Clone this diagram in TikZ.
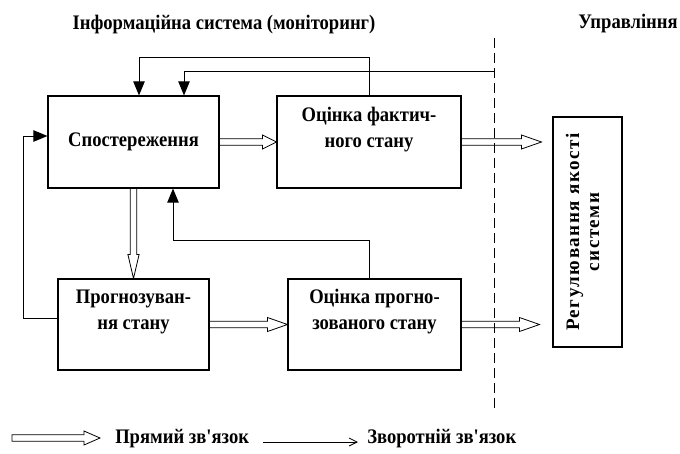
\documentclass[tikz,border=0pt]{standalone}
\usepackage{fontspec}
\setmainfont{Liberation Serif}
\newfontfamily\condfont{Liberation Serif}[FakeStretch=0.9]
\usetikzlibrary{arrows.meta,calc}
\begin{document}
\begin{tikzpicture}[x=0.75pt,y=-0.75pt,
  box/.style={draw, line width=0.8pt, inner sep=0pt},
  lbl/.style={font=\condfont\bfseries\fontsize{15.5}{19.5}\selectfont, align=center, inner sep=0pt},
  fb/.style={draw, line width=0.75pt, -{Triangle[length=10.5pt,width=8.5pt]}},
  hollowR/.style={draw, line width=0.6pt, to path={let \p1=(\tikztostart), \p2=(\tikztotarget) in
    (\x1,\y1+2.4pt) -- (\x2-#1,\y1+2.4pt) -- (\x2-#1,\y1+5.25pt) -- (\x2,\y1)
    -- (\x2-#1,\y1-5.25pt) -- (\x2-#1,\y1-2.4pt) -- (\x1,\y1-2.4pt) -- cycle}},
  hollowR/.default=13.5pt,
  hollowD/.style={draw, line width=0.6pt, to path={let \p1=(\tikztostart), \p2=(\tikztotarget) in
    (\x1-2.5pt,\y1) -- (\x1-2.5pt,\y2+18pt) -- (\x1-4.2pt,\y2+18pt) -- (\x1,\y2)
    -- (\x1+4.2pt,\y2+18pt) -- (\x1+2.5pt,\y2+18pt) -- (\x1+2.5pt,\y1) -- cycle}}
]
\useasboundingbox (0,0) rectangle (680,453);

% titles
\node[lbl] (t1) at (224,25) {Інформаційна система (моніторинг)};
\node[lbl] (t2) at (628,24) {Управління};

% separator
\draw[line width=0.6pt, dash pattern=on 7.5pt off 3.75pt] (494.5,38) -- (494.5,408);

% boxes
\node[box, minimum width=128.25pt, minimum height=69pt] (obs) at (133.5,142) {};
\node[box, minimum width=138pt, minimum height=69pt] (fact) at (369,142) {};
\node[box, minimum width=113.25pt, minimum height=68.25pt] (prog) at (133.5,324.5) {};
\node[box, minimum width=129.75pt, minimum height=68.25pt] (prest) at (374.5,324.5) {};
\node[box, minimum width=51.75pt, minimum height=172.5pt] (reg) at (587.5,232) {};

% box texts
\node[lbl] (obsT) at (obs.center) {Спостереження};
\node[lbl] (factT) at ($(fact.center)+(0,-12)$) {Оцінка фактич-\\ного стану};
\node[lbl] (progT) at ($(prog.center)+(0,-12.5)$) {Прогнозуван-\\ня стану};
\node[lbl] (prestT) at ($(prest.center)+(0,-12.5)$) {Оцінка прогно-\\зованого стану};
\node[lbl, rotate=90, font=\bfseries\fontsize{14.3}{15}\selectfont\addfontfeature{LetterSpace=8}] (regT) at ($(reg.center)+(-5,0)$) {Регулювання якості\\системи};

% feedback connections
\coordinate (c1) at (139,58);
\draw[fb] (fact.north) |- (c1) -- (c1 |- obs.north);
\coordinate (d2) at (494.5,71);
\coordinate (c2) at (184,71);
\draw[fb] (d2) -- (c2) -- (c2 |- obs.north);
\coordinate (c3) at (173,240);
\draw[fb] (prest.north -| fact.north) |- (c3) -- (c3 |- obs.south);
\coordinate (c4) at (23,318);
\coordinate (c5) at (23,136);
\draw[fb] (prog.west |- c4) -- (c4) -- (c5) -- (obs.west |- c5);

% direct connections
\draw[hollowR=10.5pt] (obs.east) to (fact.west);
\draw[hollowR=15pt] (fact.east) to ($(reg.west |- fact.east)+(-11,0)$);
\draw[hollowR=15pt] (prog.east) to (prest.west);
\draw[hollowR=15pt] (prest.east) to ($(reg.west |- prest.east)+(-13,0)$);
\draw[hollowD] (obs.south) to (prog.north);

% legend
\coordinate (l1) at (12,438);
\coordinate (l2) at (100,438);
\draw[hollowR=12pt] (l1) to (l2);
\node[lbl, anchor=west] (leg1) at (115,439) {Прямий зв'язок};
\coordinate (l3) at (263,442);
\coordinate (l4) at (358,442);
\draw[line width=0.6pt, -{Straight Barb[length=6pt,width=6pt]}] (l3) -- (l4);
\node[lbl, anchor=west] (leg2) at (367,439) {Зворотній зв'язок};
\end{tikzpicture}
\end{document}
